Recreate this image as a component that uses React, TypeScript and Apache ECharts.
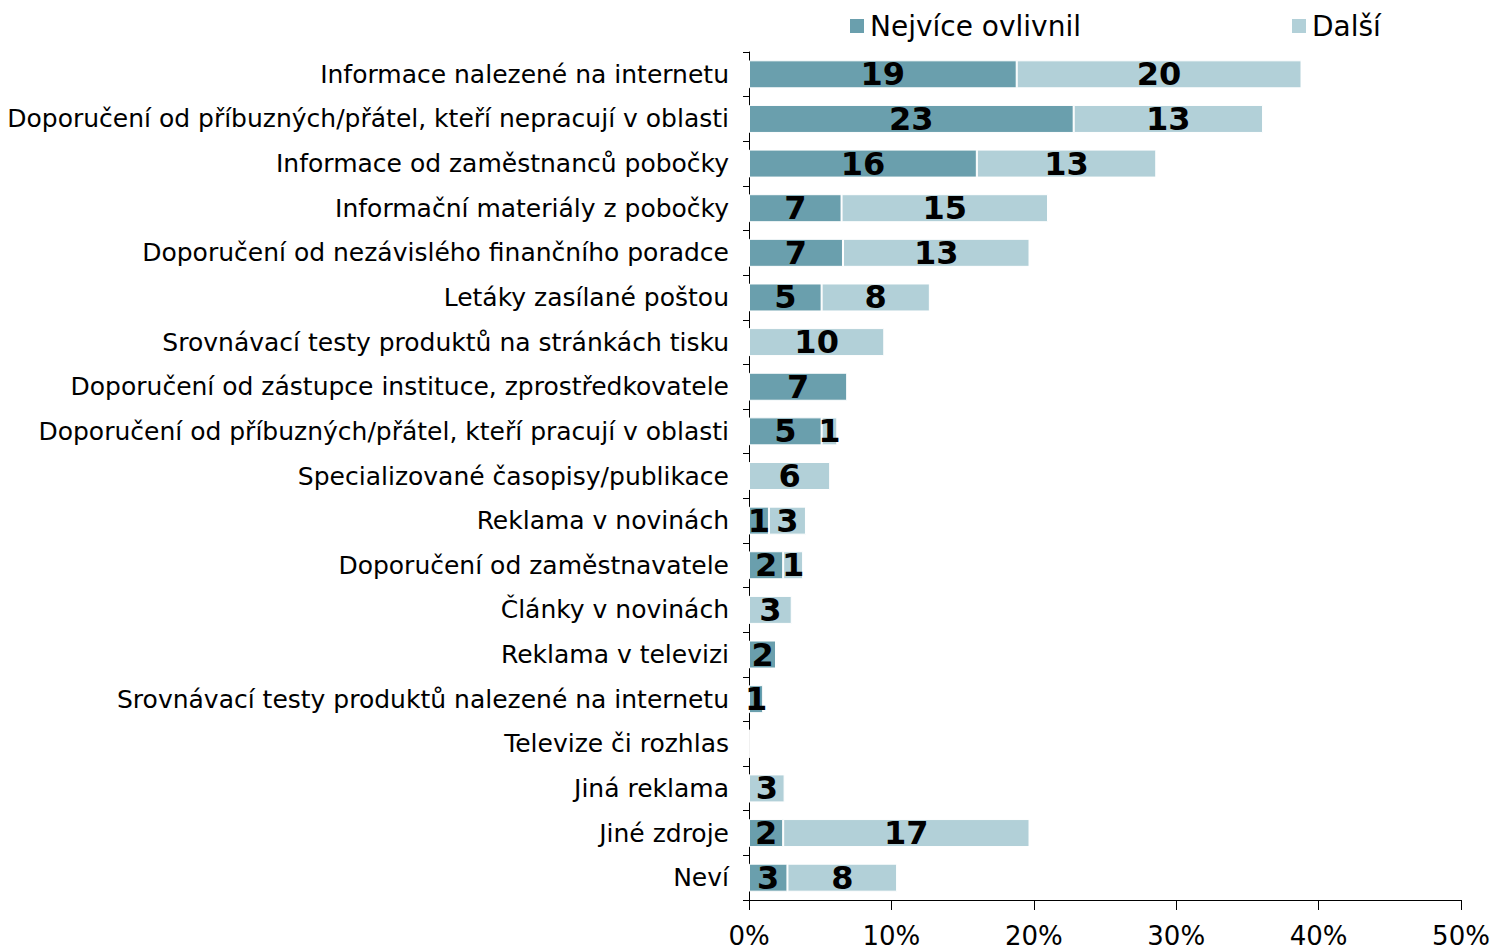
import React, { useEffect, useRef } from "react";
import * as echarts from "echarts";

const categories = [
  "Informace nalezené na internetu",
  "Doporučení od příbuzných/přátel, kteří nepracují v oblasti",
  "Informace od zaměstnanců pobočky",
  "Informační materiály z pobočky",
  "Doporučení od nezávislého finančního poradce",
  "Letáky zasílané poštou",
  "Srovnávací testy produktů na stránkách tisku",
  "Doporučení od zástupce instituce, zprostředkovatele",
  "Doporučení od příbuzných/přátel, kteří pracují v oblasti",
  "Specializované časopisy/publikace",
  "Reklama v novinách",
  "Doporučení od zaměstnavatele",
  "Články v novinách",
  "Reklama v televizi",
  "Srovnávací testy produktů nalezené na internetu",
  "Televize či rozhlas",
  "Jiná reklama",
  "Jiné zdroje",
  "Neví",
];
const mostInfluenced = [18.8, 22.8, 16.0, 6.5, 6.6, 5.1, 0, 6.9, 5.1, 0, 1.4, 2.4, 0, 1.9, 1.0, 0, 0, 2.4, 2.7];
const other = [20.0, 13.3, 12.6, 14.5, 13.1, 7.6, 9.5, 0, 1.1, 5.7, 2.6, 1.4, 3.0, 0, 0, 0, 2.5, 17.3, 7.7];
const xTicks = [0, 10, 20, 30, 40, 50];
const seriesNames = ["Nejvíce ovlivnil", "Další"];
const colors = ["#6a9fad", "#b2d0d8"];

export default function App() {
  const ref = useRef<HTMLDivElement>(null);
  useEffect(() => {
    const chart = echarts.init(ref.current!, null, { renderer: "svg" });
    const font = "DejaVu Sans, Verdana, sans-serif";
    const label = {
      show: true,
      position: "inside" as const,
      color: "#000",
      fontSize: 32,
      fontWeight: "bold" as const,
      fontFamily: font,
      formatter: (p: any) => (p.value > 0 ? String(Math.round(p.value)) : ""),
    };
    const legendText = { fontSize: 28, color: "#000", fontFamily: font };
    chart.setOption({
      animation: false,
      textStyle: { fontFamily: font },
      legend: [
        {
          data: [seriesNames[0]],
          left: 848,
          top: 12,
          padding: 0,
          icon: "rect",
          itemWidth: 16,
          itemHeight: 16,
          itemGap: 10,
          textStyle: legendText,
        },
        {
          data: [seriesNames[1]],
          left: 1290,
          top: 12,
          padding: 0,
          icon: "rect",
          itemWidth: 16,
          itemHeight: 16,
          itemGap: 10,
          textStyle: legendText,
        },
      ],
      grid: { left: 749, right: 32, top: 52, bottom: 50, containLabel: false },
      xAxis: {
        type: "value",
        min: xTicks[0],
        max: xTicks[xTicks.length - 1],
        interval: 10,
        axisLine: { show: true, lineStyle: { color: "#000", width: 1 } },
        axisTick: { show: true, length: 10, lineStyle: { color: "#000" } },
        splitLine: { show: false },
        axisLabel: {
          formatter: (v: number) => v + "%",
          fontSize: 26,
          color: "#000",
          margin: 23,
          fontFamily: font,
        },
      },
      yAxis: {
        type: "category",
        data: categories,
        inverse: true,
        axisLine: { show: true, lineStyle: { color: "#000", width: 1 } },
        axisTick: { show: true, length: 6, lineStyle: { color: "#000" } },
        axisLabel: { fontSize: 25, color: "#000", margin: 20, fontFamily: font },
      },
      series: [
        {
          name: seriesNames[0],
          type: "bar",
          stack: "total",
          data: mostInfluenced,
          barWidth: 28,
          itemStyle: { color: colors[0], borderColor: "#fff", borderWidth: 1 },
          label,
        },
        {
          name: seriesNames[1],
          type: "bar",
          stack: "total",
          data: other,
          barWidth: 28,
          itemStyle: { color: colors[1], borderColor: "#fff", borderWidth: 1 },
          label,
        },
      ],
    });
    return () => chart.dispose();
  }, []);
  return (
    <div
      ref={ref}
      style={{ position: "absolute", left: 0, top: 0, width: 1493, height: 950 }}
    />
  );
}
